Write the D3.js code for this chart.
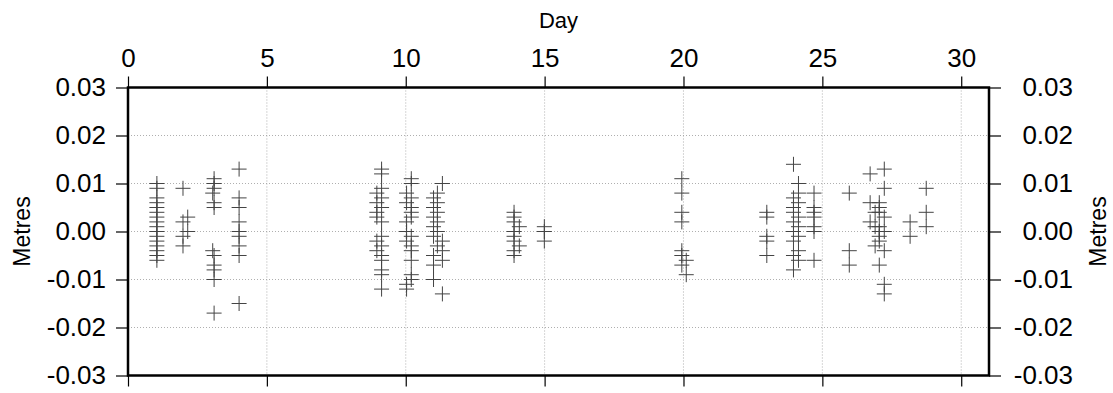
<!DOCTYPE html>
<html>
<head>
<meta charset="utf-8">
<script src="https://cdn.jsdelivr.net/npm/d3@7"></script>
<style>
  body { margin: 0; background: #fff; }
  svg { display: block; font-family: "Liberation Sans", Arial, Helvetica, sans-serif; }
</style>
</head>
<body>
<div id="chart"></div>
<script>
// observations as [day, millimetres]
const obsDay1 = [[1.04, 10], [1.04, 9], [1.04, 7], [1.04, 6], [1.04, 5], [1.04, 4], [1.04, 3], [1.04, 2],
  [1.04, 1], [1.04, 0], [1.04, -1], [1.04, -2], [1.04, -3], [1.04, -4], [1.04, -5], [1.04, -6]];
const obsDay2 = [[1.98, 9], [2.15, 3], [1.98, 2], [2.15, 0], [1.98, -1], [1.98, -3]];
const obsDay3 = [[3.1, 11], [3.1, 10], [3.1, 9], [3.05, 8], [3.1, 6], [3.1, 5], [3.05, -4], [3.1, -5],
  [3.1, -7], [3.1, -8], [3.1, -10], [3.1, -17]];
const obsDay4 = [[4.0, 13], [4.0, 7], [4.0, 5], [4.0, 2], [4.0, 0], [4.0, -1], [4.0, -3], [4.0, -5], [4.0, -15]];
const obsDay9 = [[9.13, 13], [9.13, 12], [9.13, 9], [8.96, 8], [9.13, 7], [8.96, 6], [9.13, 5], [8.96, 4],
  [8.96, 3], [9.13, 2], [9.13, -1], [8.96, -2], [9.13, -3], [8.96, -4], [9.13, -5], [9.13, -6],
  [9.13, -8], [9.13, -9], [9.13, -12]];
const obsDay10 = [[10.2, 11], [10.2, 10], [10.03, 8], [10.2, 7], [10.03, 6], [10.2, 5], [10.2, 4], [10.2, 3],
  [10.03, 2], [10.03, 0], [10.2, -1], [10.03, -2], [10.2, -3], [10.2, -4], [10.2, -6], [10.2, -9],
  [10.2, -10], [10.03, -11], [10.03, -12]];
const obsDay11 = [[11.32, 10], [11.14, 8], [11.0, 7], [11.14, 6], [11.0, 5], [11.14, 4], [11.0, 3], [11.14, 2],
  [11.0, 1], [11.14, 0], [11.0, -1], [11.32, -2], [11.14, -3], [11.32, -4], [11.0, -5], [11.32, -6],
  [11.0, -7], [11.0, -10], [11.32, -13]];
const obsDay14 = [[13.9, 4], [13.9, 3], [13.9, 2], [14.09, 1], [13.9, 0], [13.9, -1], [13.9, -2], [14.09, -3],
  [13.9, -4], [13.9, -5]];
const obsDay15 = [[14.99, 1], [14.99, 0], [14.99, -2]];
const obsDay20 = [[19.94, 11], [19.94, 8], [19.94, 4], [19.94, 2], [19.94, -4], [19.94, -5], [20.1, -6],
  [19.94, -7], [20.1, -9]];
const obsDay23 = [[23.0, 4], [23.0, 3], [23.0, -1], [23.0, -2], [23.0, -5]];
const obsDay24 = [[23.96, 14], [24.14, 10], [24.14, 8], [23.96, 7], [24.14, 6], [23.96, 5], [23.96, 4],
  [24.14, 3], [23.96, 2], [24.14, 1], [23.96, 0], [24.14, -1], [23.96, -2], [24.14, -4], [23.96, -5],
  [24.14, -6], [23.96, -8]];
const obsDay25 = [[24.7, 8], [24.7, 5], [24.7, 4], [24.7, 3], [24.7, 1], [24.7, 0], [24.7, -6]];
const obsDay26 = [[25.97, 8], [25.97, -4], [25.97, -7]];
const obsDay27 = [[26.72, 12], [27.23, 13], [27.23, 9], [26.72, 6], [27.05, 6], [27.05, 5], [26.9, 4],
  [27.05, 4], [27.23, 3], [26.72, 2], [27.05, 1], [26.9, 1], [27.05, 0], [27.23, 0], [27.05, -1],
  [27.05, -2], [26.9, -3], [27.23, -4], [27.05, -7], [27.23, -11], [27.23, -13]];
const obsDay28 = [[28.16, 2], [28.16, -1], [28.74, 9], [28.74, 4], [28.74, 1]];

const xTicks = [0, 5, 10, 15, 20, 25, 30];
const yTicks = [-0.03, -0.02, -0.01, 0, 0.01, 0.02, 0.03];

const allObs = [].concat(obsDay1, obsDay2, obsDay3, obsDay4, obsDay9, obsDay10, obsDay11, obsDay14,
  obsDay15, obsDay20, obsDay23, obsDay24, obsDay25, obsDay26, obsDay27, obsDay28);

const W = 1113, H = 393;
const plotL = 128, plotR = 989, plotT = 87.5, plotB = 375.5;

const svg = d3.select('#chart').append('svg')
  .attr('width', W)
  .attr('height', H);

const x = d3.scaleLinear().domain([0, 31]).range([plotL, plotR]);
const y = d3.scaleLinear().domain([-0.03, 0.03]).range([plotB, plotT]);

// dotted grid
const grid = svg.append('g')
  .attr('stroke', '#9a9a9a')
  .attr('stroke-width', 0.8)
  .attr('stroke-dasharray', '1,2');

grid.selectAll('.gx')
  .data(xTicks.filter(d => d > 0))
  .enter().append('line')
  .attr('x1', d => x(d)).attr('x2', d => x(d))
  .attr('y1', plotT).attr('y2', plotB);

grid.selectAll('.gy')
  .data(yTicks.filter(d => d > -0.03 && d < 0.03))
  .enter().append('line')
  .attr('x1', plotL).attr('x2', plotR)
  .attr('y1', d => y(d)).attr('y2', d => y(d));

// axes (plain hyphen for negatives, like the original)
const fmt = d => d3.format('.2f')(d).replace('\u2212', '-');
const axisStyle = g => {
  g.select('.domain').remove();
  g.selectAll('.tick line').attr('stroke', '#000').attr('stroke-width', 1.2);
  g.selectAll('.tick text').attr('fill', '#000').attr('font-size', 26);
};

svg.append('g')
  .attr('transform', `translate(0,${plotT})`)
  .call(d3.axisTop(x).tickValues(xTicks).tickSize(11).tickPadding(10))
  .call(axisStyle);

svg.append('g')
  .attr('transform', `translate(0,${plotB})`)
  .call(d3.axisBottom(x).tickValues(xTicks).tickSize(11).tickFormat(''))
  .call(axisStyle);

svg.append('g')
  .attr('transform', `translate(${plotL},0)`)
  .call(d3.axisLeft(y).tickValues(yTicks).tickSize(12).tickPadding(10).tickFormat(fmt))
  .call(axisStyle);

svg.append('g')
  .attr('transform', `translate(${plotR},0)`)
  .call(d3.axisRight(y).tickValues(yTicks).tickSize(12).tickPadding(10).tickFormat(fmt))
  .call(axisStyle)
  .selectAll('.tick text')
  .attr('text-anchor', 'end')
  .attr('x', 84);

// frame
svg.append('rect')
  .attr('x', plotL).attr('y', plotT)
  .attr('width', plotR - plotL).attr('height', plotB - plotT)
  .attr('fill', 'none')
  .attr('stroke', '#000')
  .attr('stroke-width', 2.5);

// crosses
const half = 7.5;
const marks = svg.append('g')
  .attr('stroke', '#444')
  .attr('stroke-width', 1);

marks.selectAll('path')
  .data(allObs)
  .enter().append('path')
  .attr('fill', 'none')
  .attr('d', d => {
    const cx = x(d[0]), cy = y(d[1] / 1000);
    return `M${cx - half},${cy}H${cx + half}M${cx},${cy - half}V${cy + half}`;
  });

// titles
svg.append('text')
  .attr('x', (plotL + plotR) / 2)
  .attr('y', 28)
  .attr('text-anchor', 'middle')
  .attr('font-size', 22)
  .text('Day');

svg.append('text')
  .attr('transform', `translate(30,${y(0)}) rotate(-90)`)
  .attr('text-anchor', 'middle')
  .attr('font-size', 23)
  .text('Metres');

svg.append('text')
  .attr('transform', `translate(1106,${y(0)}) rotate(-90)`)
  .attr('text-anchor', 'middle')
  .attr('font-size', 23)
  .text('Metres');
</script>
</body>
</html>
